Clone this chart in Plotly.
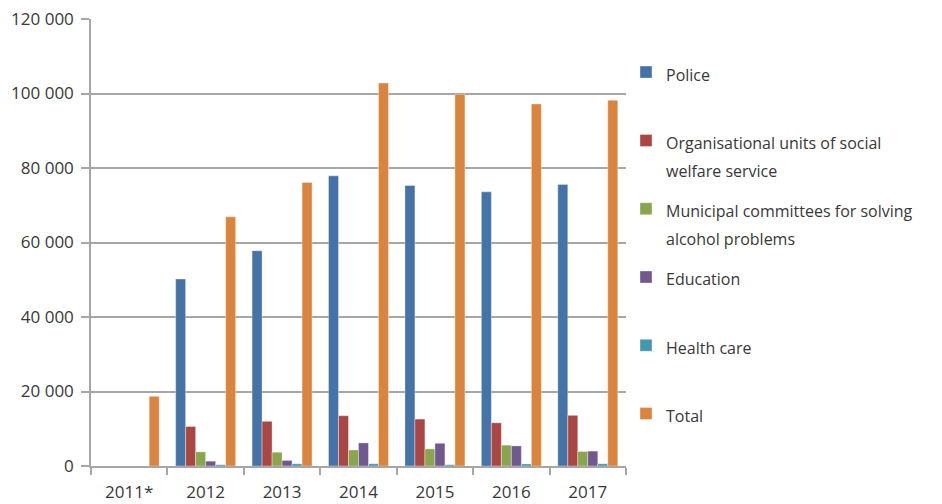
import plotly.graph_objects as go

# Reports by institution, per year (2011 only has the total)
years = ["2011*", "2012", "2013", "2014", "2015", "2016", "2017"]
police = [None, 50200, 57800, 77900, 75300, 73600, 75600]
social_welfare = [None, 10600, 12000, 13500, 12600, 11600, 13600]
municipal = [None, 3800, 3700, 4300, 4600, 5600, 3900]
education = [None, 1300, 1500, 6200, 6100, 5400, 4000]
health_care = [None, 350, 600, 600, 350, 550, 600]
total = [18700, 66900, 76100, 102800, 99800, 97200, 98200]

labels = [
    ["Police", " "],
    ["Organisational units of social", "welfare service"],
    ["Municipal committees for solving", "alcohol problems"],
    ["Education", " "],
    ["Health care", " "],
    ["Total", " "],
]
values = [police, social_welfare, municipal, education, health_care, total]
colors = ["#4572A7", "#AA4643", "#89A54E", "#71588F", "#4198AF", "#DB843D"]

FONT = "Open Sans"
TEXT = "#383838"
GRID = "#a6a6a6"
LEGEND_TEXT_PX = 16


def legend_label(lines):
    # the legend font sets the line pitch; the spans set the glyph size
    return "<br>".join(
        f"<span style='font-size:{LEGEND_TEXT_PX}px'>{ln}</span>" for ln in lines
    )


fig = go.Figure()
for i, (lines, vals, color) in enumerate(zip(labels, values, colors)):
    fig.add_trace(go.Bar(
        x=years, y=vals, name=legend_label(lines), legendgroup=f"g{i}",
        marker=dict(color=color, line=dict(color="rgba(255,255,255,0.45)", width=0.8)),
    ))

fig.update_layout(
    width=942, height=504,
    margin=dict(l=91, r=316, t=19, b=38, autoexpand=False),
    paper_bgcolor="white", plot_bgcolor="white",
    barmode="group", bargap=0.215, bargroupgap=0,
    separators=". ",
    font=dict(family=FONT, size=17, color=TEXT),
    showlegend=True,
    legend=dict(
        x=1.0, xanchor="left", y=0.927, yanchor="top",
        valign="top", tracegroupgap=9.4,
        font=dict(family=FONT, size=21.5, color=TEXT),
        bgcolor="rgba(0,0,0,0)",
    ),
    xaxis=dict(
        type="category", showline=True, linecolor=GRID, linewidth=1.5,
        ticks="outside", tickson="boundaries", ticklen=7, tickcolor=GRID, tickwidth=1.5,
        showgrid=False, ticklabelstandoff=10,
        tickfont=dict(family=FONT, size=17, color=TEXT),
    ),
    yaxis=dict(
        range=[0, 120000], dtick=20000, tickformat=",d",
        showline=True, linecolor=GRID, linewidth=1.5,
        ticks="outside", ticklen=8, tickcolor=GRID, tickwidth=1.5,
        showgrid=True, gridcolor=GRID, gridwidth=1.5, zeroline=False,
        ticklabelstandoff=4,
        tickfont=dict(family=FONT, size=17, color=TEXT),
    ),
)

fig.write_html("out.html")
